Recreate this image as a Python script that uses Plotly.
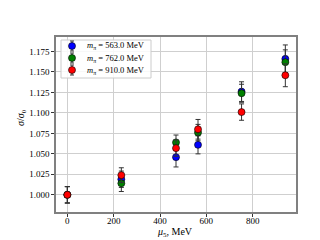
import plotly.graph_objects as go

mu5 = [0, 233, 469, 564, 752, 941]
labels = ["563.0", "762.0", "910.0"]
colors = ["#0000ff", "#008000", "#ff0000"]
vals = [
    [1.000, 1.019, 1.046, 1.061, 1.126, 1.166],
    [1.000, 1.014, 1.064, 1.076, 1.124, 1.162],
    [1.000, 1.024, 1.057, 1.080, 1.101, 1.146],
]
errs = [
    [0.010, 0.010, 0.012, 0.011, 0.012, 0.017],
    [0.010, 0.010, 0.009, 0.010, 0.011, 0.015],
    [0.010, 0.009, 0.010, 0.012, 0.010, 0.014],
]

font = "Liberation Serif"
W, H = 320, 240
L, R, T, B = 48, 32, 29, 36
PW, PH = W - L - R, H - T - B

def px(xp):
    return (xp - L) / PW

def py(yp):
    return 1 - (yp - T) / PH

fig = go.Figure()
for lab, col, v, e in zip(labels, colors, vals, errs):
    fig.add_trace(go.Scatter(
        x=mu5, y=v, mode="markers",
        name=f"<i>m</i><sub>π</sub> = {lab} MeV",
        marker=dict(color=col, size=7, line=dict(color="black", width=0.6)),
        error_y=dict(type="data", array=e, visible=True, color="#333333", thickness=1, width=2.5),
    ))

shapes = []
annotations = []
# legend box
shapes.append(dict(type="rect", xref="paper", yref="paper",
                   x0=px(53), x1=px(143), y0=py(70), y1=py(32),
                   line=dict(color="#cccccc", width=1), fillcolor="rgba(255,255,255,0.85)", layer="above"))
for i, (lab, col) in enumerate(zip(labels, colors)):
    yc = 38 + 12 * i
    shapes.append(dict(type="line", xref="paper", yref="paper",
                       x0=px(64), x1=px(64), y0=py(yc + 5), y1=py(yc - 5),
                       line=dict(color="#333333", width=1), layer="above"))
    for yy in (yc - 5, yc + 5):
        shapes.append(dict(type="line", xref="paper", yref="paper",
                           x0=px(62), x1=px(66), y0=py(yy), y1=py(yy),
                           line=dict(color="#333333", width=1), layer="above"))
    shapes.append(dict(type="circle", xref="paper", yref="paper",
                       x0=px(60.5), x1=px(67.5), y0=py(yc + 3.5), y1=py(yc - 3.5),
                       fillcolor=col, line=dict(color="black", width=0.6), layer="above"))
    annotations.append(dict(xref="paper", yref="paper", x=px(77), y=py(yc),
                            xanchor="left", yanchor="middle", showarrow=False,
                            text=f"<i>m</i><sub>π</sub> = {lab} MeV",
                            font=dict(size=8.5, family=font, color="black")))

# axis titles
annotations.append(dict(xref="paper", yref="paper", x=px(167), y=py(224),
                        xanchor="center", yanchor="middle", showarrow=False,
                        text="<i>μ</i><sub>5</sub>, MeV", font=dict(size=10, family=font, color="black")))
annotations.append(dict(xref="paper", yref="paper", x=px(13), y=py(110),
                        xanchor="center", yanchor="middle", showarrow=False, textangle=-90,
                        text="<i>σ</i>/<i>σ</i><sub>0</sub>", font=dict(size=10, family=font, color="black")))

fig.update_layout(
    width=W, height=H,
    margin=dict(l=L, r=R, t=T, b=B),
    paper_bgcolor="white", plot_bgcolor="white",
    font=dict(family=font, size=10, color="black"),
    showlegend=False,
    shapes=shapes, annotations=annotations,
    xaxis=dict(range=[-49, 987], tickvals=[0, 200, 400, 600, 800], automargin=False,
               showgrid=True, gridcolor="#cfcfcf", gridwidth=1, zeroline=False,
               showline=True, linecolor="#808080", linewidth=1.5, mirror=True,
               ticks="outside", ticklen=3, tickcolor="#333", tickfont=dict(size=9),
               ticklabelstandoff=-4),
    yaxis=dict(range=[0.979, 1.1927], automargin=False,
               tickvals=[1.000, 1.025, 1.050, 1.075, 1.100, 1.125, 1.150, 1.175],
               tickformat=".3f",
               showgrid=True, gridcolor="#cfcfcf", gridwidth=1, zeroline=False,
               showline=True, linecolor="#808080", linewidth=1.5, mirror=True,
               ticks="outside", ticklen=3, tickcolor="#333", tickfont=dict(size=9)),
)

fig.write_html("out.html")
